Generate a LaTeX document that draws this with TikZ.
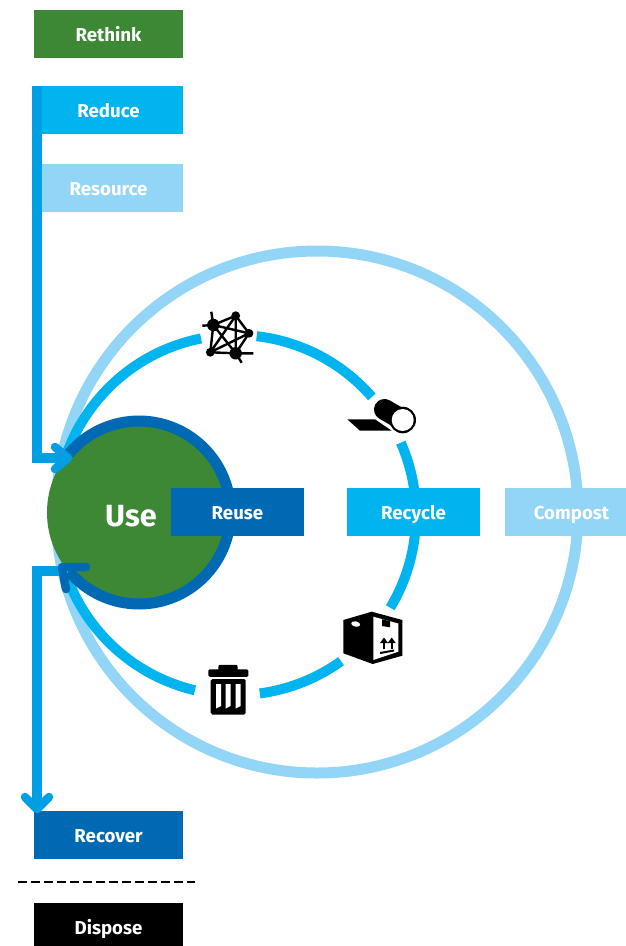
\documentclass[tikz,border=0pt]{standalone}
\usepackage{fontspec}
\setmainfont{Fira Sans}
\definecolor{cgreen}{HTML}{3C8835}
\definecolor{cdark}{HTML}{0069B4}
\definecolor{cmid}{HTML}{00B5EF}
\definecolor{clight}{HTML}{93D5F6}
\definecolor{carrow}{HTML}{009FE3}
\def\uu{0.75pt}
\newcommand{\circarc}[6]{\draw[#1,line width=#2*\uu] plot[domain=#5:#6,samples=70] ({#3+#4*cos(\x)},{515+#4*sin(\x)});}
\tikzset{
  stage/.style={inner sep=0,minimum width=133*\uu,minimum height=48*\uu,text=white,text height=11.2pt,text depth=0pt,font=\bfseries\fontsize{14pt}{16pt}\selectfont},
  wide/.style={stage,minimum width=149*\uu},
  flow/.style={carrow,line width=10*\uu,line join=miter},
  chevron/.style={line width=8.5*\uu,line cap=round,line join=round},
  netline/.style={line width=2.4*\uu,black},
}
\begin{document}
\begin{tikzpicture}[x=0.75pt,y=-0.75pt]
\useasboundingbox[fill=white] (0,0) rectangle (625,946);
% large and medium rings
\node[draw=clight,line width=11*\uu,circle,minimum size=522*\uu,inner sep=0] (outer) at (317,512) {};
\circarc{cmid}{10}{236}{180}{-160}{-101.2}
\circarc{cmid}{10}{236}{180}{-83.4}{-41}
\circarc{cmid}{10}{236}{180}{-23.7}{31}
\circarc{cmid}{10}{236}{180}{54.3}{82.4}
\circarc{cmid}{10}{236}{180}{103.2}{160}
% Use
\node[fill=cgreen,circle,minimum size=184*\uu,inner sep=0] (use) at (139,512.5) {};
\draw[cdark,line width=11*\uu] plot[domain=-140:140,samples=90] ({139+91.5*cos(\x)},{512.5+91.5*sin(\x)});
\node[text=white,font=\bfseries\fontsize{23pt}{26pt}\selectfont] (uselabel) at (131,516) {Use};
% stages
\node[wide,fill=cgreen] (rethink) at (108.5,34) {Rethink};
\node[wide,fill=cmid] (reduce) at (108.5,110) {Reduce};
\node[wide,fill=clight] (resource) at (108.5,188) {Resource};
\node[stage,fill=cdark] (reuse) at (237.5,512) {Reuse};
\node[stage,fill=cmid] (recycle) at (413.5,512) {Recycle};
\node[stage,fill=clight] (compost) at (571.5,512) {Compost};
\node[wide,fill=cdark] (recover) at (108.5,835) {Recover};
\node[wide,fill=black] (dispose) at (108.5,927) {Dispose};
\coordinate (dashl) at (18,882);
\coordinate (dashr) at (195,882);
\draw[black,line width=2.6*\uu,dash pattern=on 9*\uu off 4*\uu] (dashl) -- (dashr);
% flow arrows
\coordinate (a1) at (37,86);
\coordinate (a2) at (37,458);
\coordinate (a3) at (68,458);
\coordinate (a3u) at (55,447);
\coordinate (a3d) at (55,469);
\draw[flow] (a1) -- (a2) -- (a3);
\draw[carrow,chevron] (a3u) -- (a3) -- (a3d);
\coordinate (b1) at (65,571);
\coordinate (b2) at (37,571);
\coordinate (b3) at (37,809);
\coordinate (b3l) at (25,797);
\coordinate (b3r) at (49,797);
\draw[flow] (b1) -- (b2) -- (b3);
\draw[carrow,chevron] (b3l) -- (b3) -- (b3r);
\coordinate (c0) at (62,567);
\coordinate (c1) at (86,567);
\coordinate (c2) at (66,589);
\draw[cdark,chevron] (c1) -- (c0) -- (c2);
% network icon
\coordinate (na) at (213.3,325);
\coordinate (nb) at (235.7,315.7);
\coordinate (nc) at (249,333.3);
\coordinate (nd) at (210.3,352.3);
\coordinate (ne) at (235.7,353.3);
\draw[netline] (na)--(nb) (na)--(nc) (na)--(nd) (na)--(ne) (nb)--(nc) (nb)--(nd) (nb)--(ne) (nc)--(nd) (nc)--(ne) (nd)--(ne);
\draw[netline] (na)--(211.3,311.7) (na)--(202.3,325.7) (ne)--(253.3,353.3) (ne)--(241.7,362.7);
\fill (na) circle[radius=6.2];
\fill (nb) circle[radius=4.4];
\fill (nc) circle[radius=4.4];
\fill (nd) circle[radius=4.4];
\fill (ne) circle[radius=6.2];
% roller icon
\fill (347.3,419.3) -- (375,419.3) -- (391.7,430.7) -- (360,430.7) -- cycle;
\draw[white,line width=26*\uu,line cap=round] (385,410) -- (402.7,420);
\draw[black,line width=21*\uu,line cap=round] (384.5,409.5) -- (402.7,420);
\fill (402.7,420) circle[radius=13.3];
\fill[white] (402.7,420) circle[radius=11];
% box icon
\fill (343.3,620) -- (371.7,611.7) -- (402.3,620) -- (402.3,655.7) -- (372.7,664) -- (343.3,653.3) -- cycle;
\fill[white] (373.3,616.7) -- (398.3,623.5) -- (398.3,651.7) -- (373.3,660) -- cycle;
\fill (382,619.2) -- (390,621.3) -- (390,627.3) -- (382,626) -- cycle;
\fill[white,rotate around={-12:(355.7,624)}] (355.7,624) ellipse[x radius=4.6,y radius=2.6];
\foreach \xx in {384,391.7}{
  \fill (\xx-1.2,649) rectangle (\xx+1.2,642);
  \fill (\xx-4,643) -- (\xx,637.5) -- (\xx+4,643) -- cycle;
}
\fill (380,652) -- (394,649.5) -- (394,651.5) -- (380,654) -- cycle;
% bin icon
\fill[rounded corners=1.5pt] (218.3,672) -- (218.3,664.8) -- (237.7,664.8) -- (237.7,672) -- cycle;
\fill[rounded corners=1pt] (208.3,676.8) rectangle (248.3,669.3);
\fill[rounded corners=1.2pt] (210.7,679) rectangle (245.7,714.5);
\foreach \xx in {216,225.7,235.7}{\fill[white] (\xx,684) -- (\xx+5,684) -- (\xx+5,706) -- (\xx,708.5) -- cycle;}
\end{tikzpicture}
\end{document}
